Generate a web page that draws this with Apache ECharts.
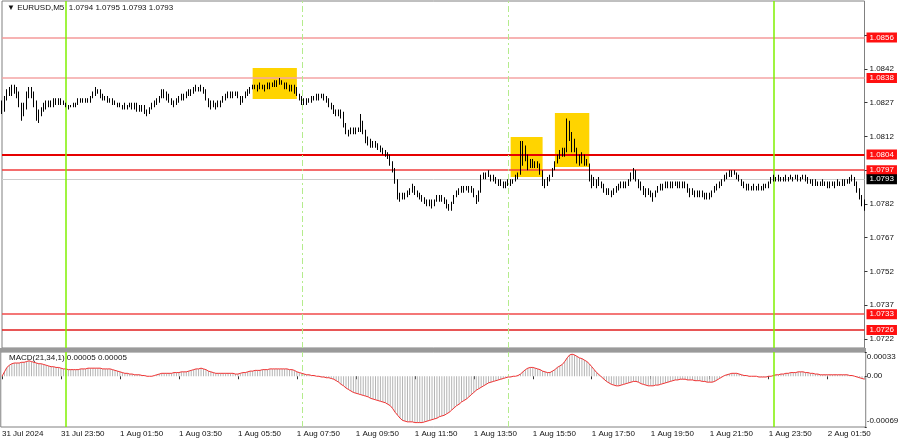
<!DOCTYPE html>
<html><head><meta charset="utf-8">
<script src="https://cdn.jsdelivr.net/npm/echarts@6/dist/echarts.min.js"></script>
<style>html,body{margin:0;padding:0;background:#fff}#c{width:900px;height:441px}</style>
</head><body><div id="c"></div>
<script>
// ---- data (EURUSD M5, 31 Jul 21:50 -> 2 Aug 03:05) ----
const startTime = Date.UTC(2024, 6, 31, 21, 50);
const barCount = 352;
const opens = [
1.0826,1.0824,1.0829,1.0831,1.0833,1.0832,1.0834,1.0831,1.0826,1.0822,
1.0825,1.0830,1.0833,1.0831,1.0827,1.0820,1.0822,1.0824,1.0825,1.0826,
1.0827,1.0826,1.0828,1.0827,1.0828,1.0827,1.0827,1.0825,1.0825,1.0826,
1.0826,1.0827,1.0828,1.0828,1.0828,1.0828,1.0828,1.0829,1.0831,1.0833,
1.0832,1.0830,1.0829,1.0829,1.0828,1.0828,1.0827,1.0827,1.0826,1.0826,
1.0825,1.0826,1.0825,1.0826,1.0825,1.0826,1.0825,1.0824,1.0825,1.0823,
1.0822,1.0824,1.0826,1.0827,1.0828,1.0829,1.0832,1.0831,1.0830,1.0828,
1.0827,1.0826,1.0828,1.0829,1.0830,1.0829,1.0831,1.0832,1.0831,1.0833,
1.0834,1.0833,1.0834,1.0832,1.0829,1.0827,1.0826,1.0827,1.0825,1.0826,
1.0827,1.0829,1.0830,1.0831,1.0830,1.0831,1.0831,1.0830,1.0827,1.0829,
1.0831,1.0832,1.0833,1.0834,1.0834,1.0833,1.0835,1.0834,1.0833,1.0835,
1.0834,1.0835,1.0836,1.0835,1.0837,1.0836,1.0834,1.0835,1.0833,1.0834,
1.0833,1.0831,1.0829,1.0827,1.0828,1.0827,1.0828,1.0828,1.0829,1.0830,
1.0829,1.0830,1.0829,1.0828,1.0826,1.0825,1.0823,1.0822,1.0823,1.0821,
1.0817,1.0814,1.0813,1.0814,1.0815,1.0814,1.0815,1.0818,1.0814,1.0811,
1.0810,1.0809,1.0808,1.0809,1.0807,1.0806,1.0805,1.0804,1.0803,1.0800,
1.0797,1.0792,1.0786,1.0785,1.0786,1.0785,1.0787,1.0788,1.0790,1.0787,
1.0786,1.0785,1.0784,1.0783,1.0782,1.0783,1.0782,1.0783,1.0785,1.0784,
1.0785,1.0783,1.0781,1.0780,1.0782,1.0785,1.0787,1.0788,1.0789,1.0788,
1.0789,1.0788,1.0789,1.0786,1.0783,1.0787,1.0793,1.0795,1.0794,1.0795,
1.0793,1.0794,1.0792,1.0791,1.0792,1.0790,1.0791,1.0792,1.0791,1.0792,
1.0794,1.0795,1.0800,1.0805,1.0803,1.0799,1.0800,1.0801,1.0799,1.0800,
1.0796,1.0792,1.0791,1.0793,1.0794,1.0797,1.0800,1.0803,1.0805,1.0804,
1.0806,1.0816,1.0812,1.0809,1.0807,1.0802,1.0801,1.0803,1.0801,1.0800,
1.0794,1.0790,1.0792,1.0791,1.0792,1.0790,1.0788,1.0787,1.0788,1.0787,
1.0788,1.0789,1.0790,1.0790,1.0791,1.0790,1.0792,1.0794,1.0797,1.0793,
1.0791,1.0790,1.0788,1.0787,1.0788,1.0786,1.0785,1.0787,1.0789,1.0790,
1.0790,1.0791,1.0790,1.0791,1.0790,1.0791,1.0791,1.0790,1.0791,1.0790,
1.0788,1.0787,1.0788,1.0786,1.0787,1.0786,1.0787,1.0786,1.0785,1.0786,
1.0787,1.0789,1.0790,1.0791,1.0792,1.0794,1.0795,1.0796,1.0795,1.0796,
1.0794,1.0793,1.0791,1.0790,1.0789,1.0790,1.0789,1.0790,1.0789,1.0790,
1.0789,1.0790,1.0790,1.0791,1.0793,1.0794,1.0793,1.0794,1.0793,1.0793,
1.0794,1.0793,1.0794,1.0793,1.0794,1.0794,1.0793,1.0794,1.0794,1.0793,
1.0792,1.0791,1.0792,1.0791,1.0791,1.0792,1.0791,1.0791,1.0790,1.0791,
1.0791,1.0792,1.0791,1.0792,1.0791,1.0792,1.0793,1.0794,1.0791,1.0788,
1.0785,1.0783];
const closes = [
1.0824,1.0829,1.0831,1.0833,1.0832,1.0834,1.0831,1.0826,1.0822,1.0825,
1.0830,1.0833,1.0831,1.0827,1.0820,1.0822,1.0824,1.0825,1.0826,1.0827,
1.0826,1.0828,1.0827,1.0828,1.0827,1.0827,1.0825,1.0825,1.0826,1.0826,
1.0827,1.0828,1.0828,1.0828,1.0828,1.0828,1.0829,1.0831,1.0833,1.0832,
1.0830,1.0829,1.0829,1.0828,1.0828,1.0827,1.0827,1.0826,1.0826,1.0825,
1.0826,1.0825,1.0826,1.0825,1.0826,1.0825,1.0824,1.0825,1.0823,1.0822,
1.0824,1.0826,1.0827,1.0828,1.0829,1.0832,1.0831,1.0830,1.0828,1.0827,
1.0826,1.0828,1.0829,1.0830,1.0829,1.0831,1.0832,1.0831,1.0833,1.0834,
1.0833,1.0834,1.0832,1.0829,1.0827,1.0826,1.0827,1.0825,1.0826,1.0827,
1.0829,1.0830,1.0831,1.0830,1.0831,1.0831,1.0830,1.0827,1.0829,1.0831,
1.0832,1.0833,1.0834,1.0834,1.0833,1.0835,1.0834,1.0833,1.0835,1.0834,
1.0835,1.0836,1.0835,1.0837,1.0836,1.0834,1.0835,1.0833,1.0834,1.0833,
1.0831,1.0829,1.0827,1.0828,1.0827,1.0828,1.0828,1.0829,1.0830,1.0829,
1.0830,1.0829,1.0828,1.0826,1.0825,1.0823,1.0822,1.0823,1.0821,1.0817,
1.0814,1.0813,1.0814,1.0815,1.0814,1.0815,1.0818,1.0814,1.0811,1.0810,
1.0809,1.0808,1.0809,1.0807,1.0806,1.0805,1.0804,1.0803,1.0800,1.0797,
1.0792,1.0786,1.0785,1.0786,1.0785,1.0787,1.0788,1.0790,1.0787,1.0786,
1.0785,1.0784,1.0783,1.0782,1.0783,1.0782,1.0783,1.0785,1.0784,1.0785,
1.0783,1.0781,1.0780,1.0782,1.0785,1.0787,1.0788,1.0789,1.0788,1.0789,
1.0788,1.0789,1.0786,1.0783,1.0787,1.0793,1.0795,1.0794,1.0795,1.0793,
1.0794,1.0792,1.0791,1.0792,1.0790,1.0791,1.0792,1.0791,1.0792,1.0794,
1.0795,1.0800,1.0805,1.0803,1.0799,1.0800,1.0801,1.0799,1.0800,1.0796,
1.0792,1.0791,1.0793,1.0794,1.0797,1.0800,1.0803,1.0805,1.0804,1.0806,
1.0816,1.0812,1.0809,1.0807,1.0802,1.0801,1.0803,1.0801,1.0800,1.0794,
1.0790,1.0792,1.0791,1.0792,1.0790,1.0788,1.0787,1.0788,1.0787,1.0788,
1.0789,1.0790,1.0790,1.0791,1.0790,1.0792,1.0794,1.0797,1.0793,1.0791,
1.0790,1.0788,1.0787,1.0788,1.0786,1.0785,1.0787,1.0789,1.0790,1.0790,
1.0791,1.0790,1.0791,1.0790,1.0791,1.0791,1.0790,1.0791,1.0790,1.0788,
1.0787,1.0788,1.0786,1.0787,1.0786,1.0787,1.0786,1.0785,1.0786,1.0787,
1.0789,1.0790,1.0791,1.0792,1.0794,1.0795,1.0796,1.0795,1.0796,1.0794,
1.0793,1.0791,1.0790,1.0789,1.0790,1.0789,1.0790,1.0789,1.0790,1.0789,
1.0790,1.0790,1.0791,1.0793,1.0794,1.0793,1.0794,1.0793,1.0793,1.0794,
1.0793,1.0794,1.0793,1.0794,1.0794,1.0793,1.0794,1.0794,1.0793,1.0792,
1.0791,1.0792,1.0791,1.0791,1.0792,1.0791,1.0791,1.0790,1.0791,1.0791,
1.0792,1.0791,1.0792,1.0791,1.0792,1.0793,1.0794,1.0791,1.0788,1.0785,
1.0783,1.0780];
const lows = [
1.0822,1.0823,1.0828,1.0830,1.0830,1.0831,1.0829,1.0825,1.0819,1.0821,
1.0824,1.0829,1.0829,1.0825,1.0819,1.0818,1.0821,1.0823,1.0824,1.0825,
1.0825,1.0825,1.0826,1.0826,1.0826,1.0826,1.0825,1.0824,1.0825,1.0825,
1.0825,1.0826,1.0827,1.0827,1.0827,1.0827,1.0827,1.0829,1.0830,1.0831,
1.0829,1.0828,1.0828,1.0827,1.0827,1.0826,1.0826,1.0825,1.0825,1.0824,
1.0824,1.0824,1.0825,1.0824,1.0824,1.0823,1.0823,1.0823,1.0822,1.0821,
1.0822,1.0824,1.0825,1.0826,1.0827,1.0829,1.0829,1.0828,1.0827,1.0826,
1.0825,1.0826,1.0827,1.0828,1.0828,1.0829,1.0830,1.0830,1.0831,1.0832,
1.0832,1.0832,1.0831,1.0828,1.0825,1.0824,1.0825,1.0824,1.0825,1.0825,
1.0827,1.0828,1.0829,1.0829,1.0829,1.0830,1.0829,1.0826,1.0827,1.0829,
1.0830,1.0831,1.0833,1.0833,1.0832,1.0833,1.0833,1.0832,1.0833,1.0833,
1.0834,1.0834,1.0834,1.0835,1.0835,1.0833,1.0833,1.0832,1.0832,1.0831,
1.0830,1.0828,1.0826,1.0826,1.0826,1.0827,1.0827,1.0828,1.0828,1.0828,
1.0829,1.0828,1.0827,1.0825,1.0824,1.0822,1.0821,1.0821,1.0820,1.0816,
1.0813,1.0812,1.0813,1.0813,1.0813,1.0814,1.0814,1.0813,1.0809,1.0808,
1.0807,1.0807,1.0807,1.0806,1.0805,1.0804,1.0803,1.0802,1.0799,1.0796,
1.0791,1.0784,1.0783,1.0784,1.0784,1.0785,1.0786,1.0787,1.0786,1.0785,
1.0784,1.0783,1.0782,1.0781,1.0781,1.0780,1.0781,1.0783,1.0783,1.0783,
1.0782,1.0780,1.0779,1.0779,1.0782,1.0785,1.0786,1.0787,1.0787,1.0788,
1.0787,1.0787,1.0785,1.0782,1.0783,1.0787,1.0793,1.0793,1.0794,1.0792,
1.0792,1.0791,1.0790,1.0790,1.0789,1.0789,1.0790,1.0790,1.0791,1.0792,
1.0793,1.0795,1.0799,1.0801,1.0797,1.0798,1.0798,1.0798,1.0798,1.0795,
1.0790,1.0789,1.0790,1.0792,1.0794,1.0797,1.0800,1.0802,1.0803,1.0803,
1.0805,1.0810,1.0805,1.0805,1.0800,1.0799,1.0800,1.0799,1.0799,1.0792,
1.0789,1.0790,1.0789,1.0790,1.0789,1.0787,1.0786,1.0786,1.0785,1.0786,
1.0787,1.0788,1.0789,1.0789,1.0789,1.0790,1.0792,1.0793,1.0792,1.0789,
1.0788,1.0786,1.0785,1.0786,1.0785,1.0783,1.0785,1.0787,1.0788,1.0788,
1.0789,1.0789,1.0789,1.0789,1.0790,1.0789,1.0789,1.0789,1.0789,1.0787,
1.0785,1.0786,1.0785,1.0785,1.0785,1.0785,1.0784,1.0784,1.0784,1.0785,
1.0787,1.0788,1.0789,1.0790,1.0792,1.0793,1.0794,1.0794,1.0795,1.0793,
1.0792,1.0790,1.0789,1.0788,1.0788,1.0788,1.0788,1.0788,1.0788,1.0788,
1.0788,1.0789,1.0789,1.0791,1.0792,1.0792,1.0792,1.0792,1.0792,1.0792,
1.0792,1.0793,1.0792,1.0793,1.0792,1.0792,1.0793,1.0792,1.0791,1.0791,
1.0790,1.0790,1.0790,1.0790,1.0790,1.0790,1.0789,1.0789,1.0790,1.0789,
1.0790,1.0790,1.0790,1.0790,1.0791,1.0791,1.0792,1.0790,1.0787,1.0784,
1.0781,1.0779];
const highs = [
1.0828,1.0830,1.0833,1.0834,1.0835,1.0835,1.0834,1.0832,1.0827,1.0827,
1.0832,1.0834,1.0834,1.0832,1.0828,1.0824,1.0825,1.0827,1.0828,1.0828,
1.0828,1.0829,1.0829,1.0829,1.0829,1.0828,1.0827,1.0826,1.0826,1.0827,
1.0827,1.0829,1.0829,1.0829,1.0829,1.0829,1.0830,1.0832,1.0834,1.0833,
1.0833,1.0831,1.0830,1.0830,1.0829,1.0829,1.0828,1.0827,1.0827,1.0826,
1.0827,1.0826,1.0827,1.0827,1.0827,1.0827,1.0826,1.0826,1.0826,1.0824,
1.0825,1.0827,1.0828,1.0829,1.0830,1.0833,1.0833,1.0832,1.0831,1.0829,
1.0828,1.0829,1.0830,1.0831,1.0831,1.0832,1.0833,1.0833,1.0834,1.0835,
1.0834,1.0835,1.0834,1.0833,1.0829,1.0828,1.0828,1.0827,1.0828,1.0828,
1.0830,1.0831,1.0832,1.0832,1.0832,1.0832,1.0832,1.0830,1.0830,1.0832,
1.0833,1.0834,1.0835,1.0835,1.0835,1.0836,1.0835,1.0835,1.0836,1.0836,
1.0836,1.0837,1.0837,1.0838,1.0837,1.0836,1.0836,1.0835,1.0835,1.0835,
1.0834,1.0831,1.0830,1.0829,1.0829,1.0829,1.0830,1.0830,1.0831,1.0831,
1.0831,1.0831,1.0830,1.0829,1.0827,1.0826,1.0824,1.0824,1.0824,1.0823,
1.0818,1.0815,1.0816,1.0816,1.0816,1.0816,1.0822,1.0819,1.0815,1.0812,
1.0811,1.0810,1.0810,1.0809,1.0808,1.0807,1.0806,1.0805,1.0804,1.0801,
1.0798,1.0793,1.0787,1.0787,1.0787,1.0788,1.0789,1.0791,1.0790,1.0788,
1.0787,1.0786,1.0785,1.0784,1.0784,1.0784,1.0784,1.0786,1.0786,1.0786,
1.0785,1.0784,1.0782,1.0783,1.0786,1.0788,1.0789,1.0790,1.0790,1.0790,
1.0790,1.0790,1.0789,1.0786,1.0788,1.0795,1.0796,1.0796,1.0797,1.0795,
1.0795,1.0794,1.0793,1.0793,1.0792,1.0792,1.0793,1.0793,1.0793,1.0795,
1.0796,1.0810,1.0810,1.0808,1.0804,1.0802,1.0802,1.0801,1.0801,1.0800,
1.0797,1.0793,1.0794,1.0795,1.0798,1.0801,1.0804,1.0806,1.0807,1.0807,
1.0820,1.0819,1.0814,1.0811,1.0807,1.0804,1.0805,1.0804,1.0802,1.0800,
1.0795,1.0794,1.0793,1.0794,1.0792,1.0791,1.0789,1.0789,1.0788,1.0789,
1.0790,1.0791,1.0792,1.0792,1.0792,1.0793,1.0796,1.0798,1.0797,1.0793,
1.0792,1.0790,1.0789,1.0789,1.0788,1.0787,1.0788,1.0790,1.0791,1.0791,
1.0792,1.0792,1.0792,1.0792,1.0792,1.0792,1.0792,1.0792,1.0792,1.0791,
1.0789,1.0789,1.0788,1.0788,1.0788,1.0788,1.0787,1.0787,1.0787,1.0788,
1.0790,1.0791,1.0792,1.0793,1.0795,1.0796,1.0797,1.0797,1.0797,1.0796,
1.0795,1.0793,1.0792,1.0791,1.0791,1.0790,1.0791,1.0790,1.0791,1.0790,
1.0791,1.0791,1.0792,1.0794,1.0795,1.0794,1.0795,1.0794,1.0794,1.0795,
1.0794,1.0795,1.0794,1.0795,1.0795,1.0794,1.0795,1.0795,1.0794,1.0793,
1.0793,1.0793,1.0792,1.0792,1.0793,1.0792,1.0792,1.0792,1.0792,1.0792,
1.0793,1.0792,1.0793,1.0793,1.0793,1.0794,1.0795,1.0794,1.0792,1.0789,
1.0786,1.0784];
// MACD(21,34,1) main value per bar, in units of 0.00001
const macd = [
0,6,12,15,17,18,18,18,19,19,
20,21,20,19,18,17,17,16,15,14,
13,13,12,12,11,10,10,9,9,9,
9,9,10,10,10,11,11,11,11,11,
11,10,10,10,10,9,8,7,6,5,
4,4,3,3,2,2,2,1,1,0,
0,0,1,2,3,4,4,4,4,4,
5,5,5,6,6,6,7,8,9,10,
10,11,10,9,7,6,5,4,4,4,
4,4,4,4,4,3,3,4,5,5,
6,7,7,8,8,8,9,9,9,10,
10,10,10,10,10,10,10,9,9,8,
6,5,4,3,2,2,1,1,0,0,
-1,-1,-2,-2,-3,-4,-6,-8,-11,-13,
-16,-18,-20,-22,-23,-24,-25,-26,-27,-28,
-30,-31,-32,-33,-34,-35,-36,-38,-40,-44,
-49,-53,-57,-60,-61,-62,-62,-62,-63,-63,
-63,-63,-62,-61,-60,-59,-58,-57,-55,-54,
-53,-51,-49,-46,-43,-40,-38,-35,-33,-31,
-28,-25,-22,-19,-17,-15,-13,-11,-9,-8,
-7,-6,-5,-4,-3,-2,-1,-1,0,0,
1,3,6,9,11,12,12,11,10,9,
7,6,5,5,7,9,12,14,16,20,
25,29,30,29,27,25,24,22,20,17,
13,9,5,2,-1,-4,-7,-9,-11,-12,
-13,-13,-12,-11,-10,-9,-8,-7,-7,-8,
-10,-11,-12,-13,-13,-13,-12,-12,-11,-10,
-9,-8,-7,-6,-5,-5,-4,-4,-4,-5,
-5,-5,-6,-6,-6,-7,-7,-8,-8,-8,
-7,-5,-3,-1,1,2,3,4,4,4,
3,2,1,1,0,0,0,0,-1,-1,
-1,-1,0,0,1,2,2,3,3,4,
4,5,5,5,6,6,6,5,5,4,
4,3,3,2,2,2,2,2,2,2,
2,2,2,2,2,1,1,0,-1,-2,
-3,-4];
const priceTicks = [1.0722, 1.0737, 1.0752, 1.0767, 1.0782, 1.0797, 1.0812, 1.0827, 1.0842, 1.0857];
const priceTickLabels = [1.0722, 1.0737, 1.0752, 1.0767, 1.0782, 1.0812, 1.0827, 1.0842];
const levels = [1.0856, 1.0838, 1.0804, 1.0797, 1.0733, 1.0726];
const currentPrice = 1.0793;
const macdTicks = [33, 0, -69];
// zones: [startBar, endBar, low, high]
const zones = [[102, 120, 1.08287, 1.08424], [207, 220, 1.0794, 1.08118], [225, 239, 1.07984, 1.08224]];
const dayLines = [26, 314];      // 1 Aug 00:00, 2 Aug 00:00
const sessionLines = [122, 206]; // 1 Aug 08:00, 1 Aug 15:00
const headerText = '\u25BC EURUSD,M5  1.0794 1.0795 1.0793 1.0793';
const macdText = 'MACD(21,34,1) 0.00005 0.00005';

// ---- build ----
const MON = ['Jan','Feb','Mar','Apr','May','Jun','Jul','Aug','Sep','Oct','Nov','Dec'];
const times = [];
for (let i = 0; i < barCount; i++) {
  const d = new Date(startTime + i * 300000);
  const hh = String(d.getUTCHours()).padStart(2, '0'), mm = String(d.getUTCMinutes()).padStart(2, '0');
  times.push(d.getUTCDate() + ' ' + MON[d.getUTCMonth()] + ' ' + hh + ':' + mm);
}
const ohlc = closes.map((c, i) => [opens[i], c, lows[i], highs[i]]);
const FONT = 'Liberation Sans, Arial, sans-serif';
const levelStyles = [
  {color: '#f59a9a', width: 1.5}, {color: '#f5a5a5', width: 1.5},
  {color: '#e60000', width: 2}, {color: '#f03c3c', width: 1.5},
  {color: '#f04a4a', width: 1.5}, {color: '#e01e1e', width: 1.5}
];
const hLines = levels.map((v, k) => ({
  yAxis: v, lineStyle: {color: levelStyles[k].color, width: levelStyles[k].width, type: 'solid'},
  label: {backgroundColor: '#ff1010'}
}));
hLines.push({yAxis: currentPrice, lineStyle: {color: '#cccccc', width: 1, type: 'solid'}, label: {backgroundColor: '#000000'}});
const vLines = dayLines.map(i => ({xAxis: i, lineStyle: {color: '#7ff000', width: 1.5, type: 'solid'}, label: {show: false}}))
  .concat(sessionLines.map(i => ({xAxis: i, lineStyle: {color: '#b4ec8c', width: 1, type: [6, 3, 2, 3]}, label: {show: false}})));
const tickIdx = (idx) => idx % 24 === 0;
const STEP = 862.5 / (barCount - 1);

const chart = echarts.init(document.getElementById('c'), null, {renderer: 'canvas'});
chart.setOption({
  animation: false,
  backgroundColor: '#ffffff',
  textStyle: {fontFamily: FONT},
  title: [
    {text: headerText, left: 2, top: -1, textStyle: {fontSize: 8, fontWeight: 'normal', color: '#111', fontFamily: FONT}},
    {text: macdText, left: 4, top: 349, textStyle: {fontSize: 8, fontWeight: 'normal', color: '#111', fontFamily: FONT}}
  ],
  graphic: [{type: 'rect', shape: {x: 0, y: 348, width: 866, height: 4}, style: {fill: '#9a9a9a'}, silent: true}],
  grid: [
    {left: 2, top: 1, width: 862.5, height: 347, show: true, borderColor: '#808080', borderWidth: 1,
     containLabel: false, outerBoundsMode: 'none'},
    {left: 2 - STEP / 2, top: 352, width: STEP * barCount, height: 75, show: true, borderColor: '#808080', borderWidth: 1,
     containLabel: false, outerBoundsMode: 'none'}
  ],
  xAxis: [
    {type: 'category', gridIndex: 0, data: times, boundaryGap: false,
     axisLine: {show: false}, axisTick: {show: false}, axisLabel: {show: false}, splitLine: {show: false}},
    {type: 'category', gridIndex: 1, data: times, boundaryGap: true,
     axisLine: {show: false},
     axisTick: {show: true, interval: tickIdx, alignWithLabel: true, length: 3, lineStyle: {color: '#333'}},
     axisLabel: {show: true, interval: tickIdx, align: 'left', margin: 3, fontSize: 8, color: '#111', fontFamily: FONT,
       formatter: (v, i) => i === 0 ? '31 Jul 2024' : v},
     splitLine: {show: false}}
  ],
  yAxis: [
    {type: 'value', gridIndex: 0, position: 'right', min: 1.0718, max: 1.087222, scale: true,
     axisLine: {show: false}, splitLine: {show: false},
     axisTick: {show: true, inside: false, length: 3, customValues: priceTicks, lineStyle: {color: '#333'}},
     axisLabel: {show: true, margin: 5, fontSize: 8, color: '#111', fontFamily: FONT, customValues: priceTickLabels,
       formatter: v => Number(v).toFixed(4)}},
    {type: 'value', gridIndex: 1, position: 'right', min: -69, max: 33, offset: -1,
     axisLine: {show: false}, splitLine: {show: false},
     axisTick: {show: true, length: 2, customValues: macdTicks, lineStyle: {color: '#333'}},
     axisLabel: {show: true, margin: 2, fontSize: 8, color: '#111', fontFamily: FONT, customValues: macdTicks,
       formatter: v => v > 0 ? '{t|' + (v / 100000).toFixed(5) + '}' : (v < 0 ? '{b|' + (v / 100000).toFixed(5) + '}' : '0.00'),
       rich: {t: {fontSize: 8, color: '#111', padding: [9, 0, 0, 0]}, b: {fontSize: 8, color: '#111', padding: [0, 0, 12, 0]}}}}
  ],
  series: [
    {type: 'line', xAxisIndex: 0, yAxisIndex: 0, data: [], z: 1, silent: true,
     markArea: {silent: true, itemStyle: {color: '#ffd400', opacity: 1},
       data: zones.map(z => [{xAxis: z[0], yAxis: z[3]}, {xAxis: z[1], yAxis: z[2]}])}},
    {type: 'line', xAxisIndex: 0, yAxisIndex: 0, data: closes, z: 2, silent: true, showSymbol: false,
     lineStyle: {opacity: 0}, itemStyle: {opacity: 0},
     markLine: {silent: true, symbol: ['none', 'none'], animation: false, precision: 5,
       label: {show: true, position: 'end', distance: 2, color: '#ffffff', fontSize: 8, fontFamily: FONT, padding: [1, 3, 1, 3],
         formatter: p => Number(p.value).toFixed(4)},
       data: hLines}},
    {type: 'candlestick', xAxisIndex: 0, yAxisIndex: 0, data: ohlc, z: 5, barWidth: 1.1, silent: true,
     itemStyle: {color: '#ffffff', color0: '#000000', borderColor: '#000000', borderColor0: '#000000', borderWidth: 1}},
    {type: 'line', xAxisIndex: 0, yAxisIndex: 0, data: [], z: 6, silent: true,
     markLine: {silent: true, symbol: ['none', 'none'], animation: false, data: vLines}},
    {type: 'bar', xAxisIndex: 1, yAxisIndex: 1, data: macd, barWidth: 1, silent: true,
     itemStyle: {color: '#b4b4b4'}},
    {type: 'line', xAxisIndex: 1, yAxisIndex: 1, data: macd, showSymbol: false, silent: true, z: 4,
     lineStyle: {color: '#f03232', width: 1},
     markLine: {silent: true, symbol: ['none', 'none'], animation: false, data: vLines}}
  ]
});
</script>
</body></html>
